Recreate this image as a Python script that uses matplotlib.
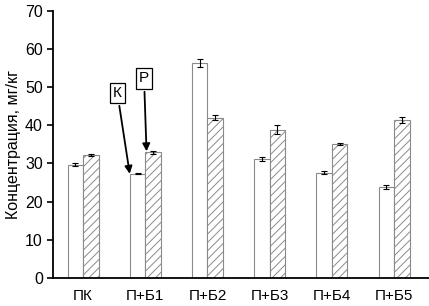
import numpy as np
import matplotlib.pyplot as plt

plt.rcParams['font.family'] = ['Liberation Sans', 'DejaVu Sans']
plt.rcParams['hatch.color'] = '#909090'
plt.rcParams['hatch.linewidth'] = 0.7

categories = ['ПК', 'П+Б1', 'П+Б2', 'П+Б3', 'П+Б4', 'П+Б5']
k_values = [29.7, 27.3, 56.3, 31.2, 27.6, 23.8]
k_errors = [0.3, 0.1, 1.0, 0.6, 0.3, 0.5]
p_values = [32.2, 32.9, 42.0, 38.9, 35.1, 41.4]
p_errors = [0.2, 0.3, 0.7, 1.2, 0.2, 0.7]

fig = plt.figure(figsize=(4.29, 3.06), dpi=100)
ax = fig.add_axes([0.124, 0.092, 0.876, 0.872])

x = np.arange(len(categories))
w = 0.25
ax.bar(x - w / 2, k_values, w, yerr=k_errors, color='white', edgecolor='#8a8a8a',
       linewidth=0.8, error_kw=dict(ecolor='black', elinewidth=0.8, capsize=2.5, capthick=0.8))
ax.bar(x + w / 2, p_values, w, yerr=p_errors, color='white', edgecolor='#8a8a8a',
       hatch='////', linewidth=0.8, error_kw=dict(ecolor='black', elinewidth=0.8, capsize=2.5, capthick=0.8))

ax.annotate('К', xy=(x[1] - w, k_values[1]), xytext=(0.55, 48.6), ha='center', va='center', fontsize=11,
            bbox=dict(boxstyle='square,pad=0.2', fc='white', ec='black', lw=0.9),
            arrowprops=dict(arrowstyle='-|>', color='black', lw=1.3, shrinkA=2, shrinkB=0))
ax.annotate('Р', xy=(x[1] + 0.02, p_values[1] + 0.3), xytext=(0.98, 52.3), ha='center', va='center', fontsize=11,
            bbox=dict(boxstyle='square,pad=0.2', fc='white', ec='black', lw=0.9),
            arrowprops=dict(arrowstyle='-|>', color='black', lw=1.3, shrinkA=2, shrinkB=0))

ax.set_xlim(-0.48, 5.56)
ax.set_ylim(0, 70)
ax.set_xticks(x)
ax.set_xticklabels(categories)
ax.set_yticks(np.arange(0, 71, 10))
ax.tick_params(axis='x', length=0, labelsize=11, pad=8)
ax.tick_params(axis='y', direction='out', length=4, width=1.2, labelsize=11.5)
ax.spines['top'].set_visible(False)
ax.spines['right'].set_visible(False)
ax.spines['left'].set_linewidth(1.3)
ax.spines['bottom'].set_linewidth(1.3)
ax.set_ylabel('Концентрация, мг/кг', fontsize=11.5, labelpad=3)

fig.savefig('out.png', dpi=100)
